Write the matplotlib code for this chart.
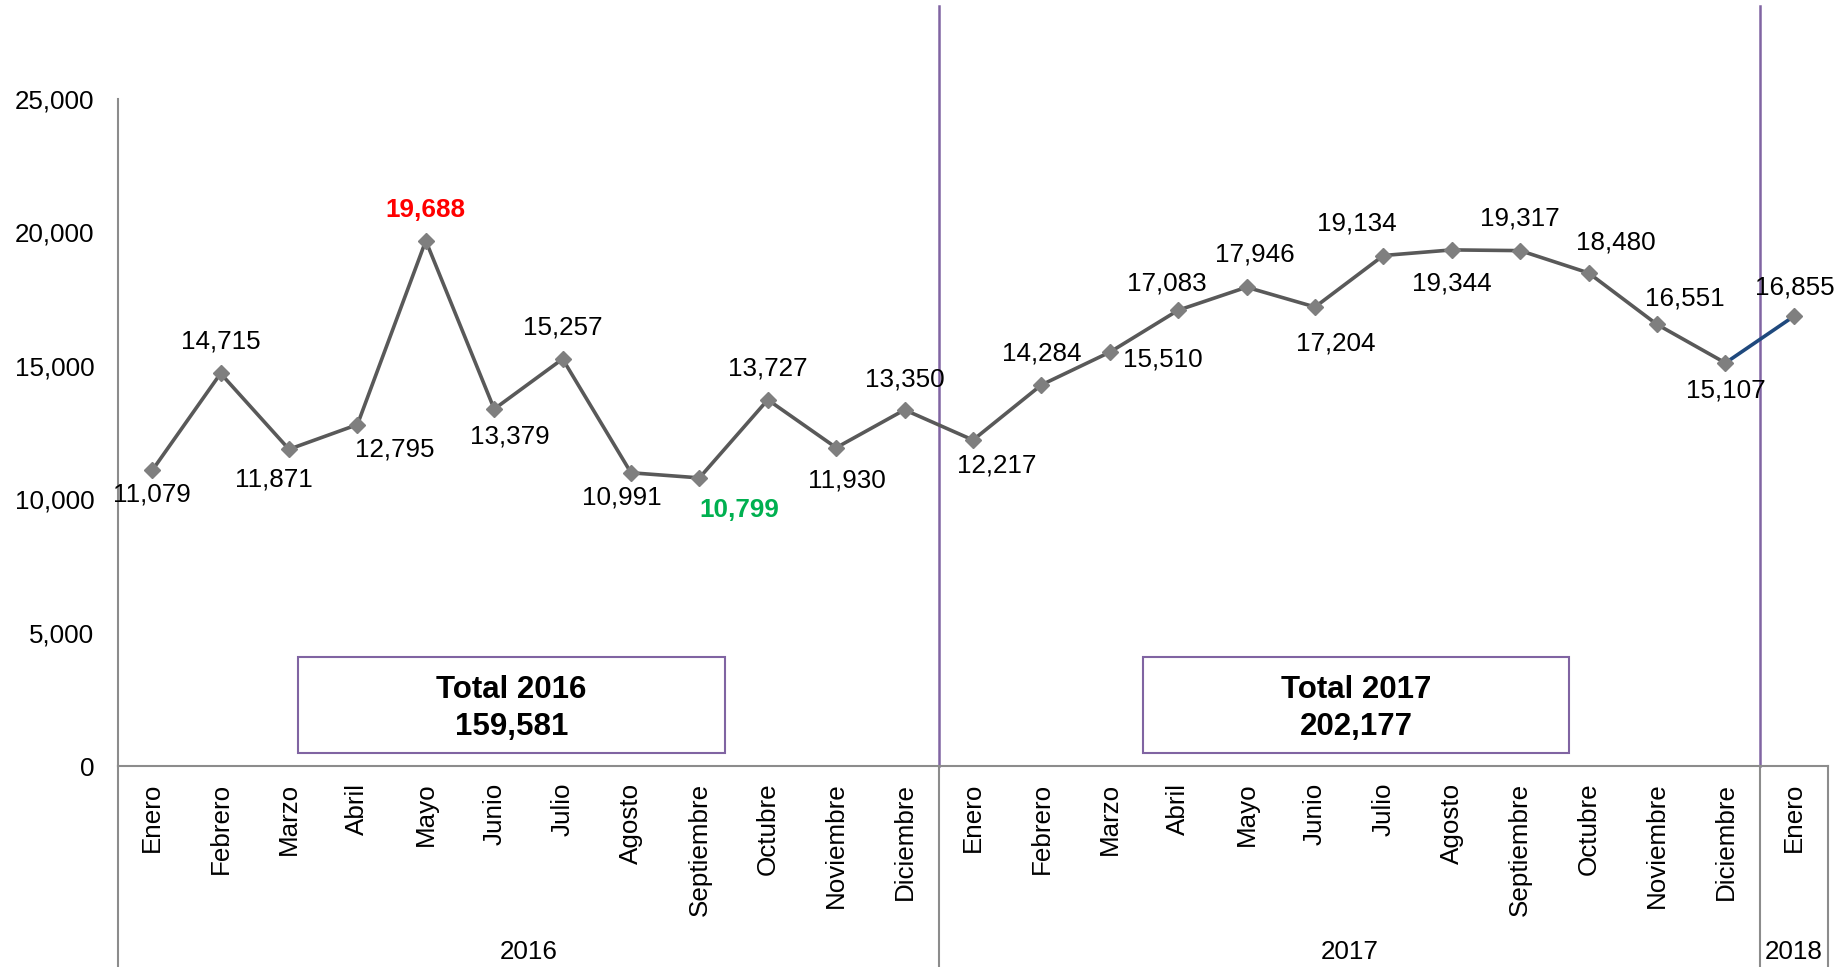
import matplotlib
matplotlib.use("Agg")
import matplotlib.pyplot as plt
from matplotlib.patches import Rectangle

plt.rcParams["font.family"] = ["Liberation Sans", "DejaVu Sans"]

# monthly totals, Jan 2016 .. Jan 2018
MONTHS = [
    "Enero", "Febrero", "Marzo", "Abril", "Mayo", "Junio", "Julio", "Agosto",
    "Septiembre", "Octubre", "Noviembre", "Diciembre",
    "Enero", "Febrero", "Marzo", "Abril", "Mayo", "Junio", "Julio", "Agosto",
    "Septiembre", "Octubre", "Noviembre", "Diciembre",
    "Enero",
]
YEARS = ["2016"] * 12 + ["2017"] * 12 + ["2018"]
VALUES = [
    11079, 14715, 11871, 12795, 19688, 13379, 15257, 10991, 10799, 13727, 11930, 13350,
    12217, 14284, 15510, 17083, 17946, 17204, 19134, 19344, 19317, 18480, 16551, 15107,
    16855,
]
YTICKS = [0, 5000, 10000, 15000, 20000, 25000]
TOTAL_YEARS = ["2016", "2017"]

# label offsets (pixels) from each marker
LABEL_OFFSETS = [
    (0, -24), (0, 32), (-15, -30), (37, -25), (0, 31), (16, -27), (0, 31), (-9, -25),
    (40, -32), (0, 31), (11, -33), (0, 30),
    (24, -25), (0, 31), (53, -7), (-11, 27), (8, 33), (21, -37), (-27, 32), (0, -34),
    (0, 32), (27, 30), (28, 26), (0, -28),
    (1, 29),
]

LINE = "#595959"
MARKER = "#7f7f7f"
BLUE = "#1f497d"
PURPLE = "#8064a2"
GRID = "#8c8c8c"
FS = 18.7

W, H = 1845, 967
fig = plt.figure(figsize=(W / 100, H / 100), dpi=100)
ax_left, ax_right, ax_top, ax_bot = 118, 1828, 99, 766
ax = fig.add_axes([ax_left / W, 1 - ax_bot / H, (ax_right - ax_left) / W, (ax_bot - ax_top) / H])

x = list(range(len(VALUES)))
ax.set_xlim(-0.5, len(VALUES) - 0.5)
ax.set_ylim(0, 25000)

# last segment (into 2018) drawn as its own series
ax.plot(x[-2:], VALUES[-2:], color=BLUE, lw=2.6, zorder=2)
ax.plot(x[:-1], VALUES[:-1], color=LINE, lw=2.6, zorder=2)
ax.plot(x, VALUES, ls="none", marker="D", ms=8, color=MARKER, zorder=3)

imax = VALUES[:12].index(max(VALUES[:12]))
imin = VALUES[:12].index(min(VALUES[:12]))
for i, v in enumerate(VALUES):
    color, weight = "black", "normal"
    if i == imax:
        color, weight = "#ff0000", "bold"
    elif i == imin:
        color, weight = "#00b050", "bold"
    dx, dy = LABEL_OFFSETS[i]
    ax.annotate(f"{v:,}", (i, v), xytext=(dx, dy), textcoords="offset pixels",
                ha="center", va="center", fontsize=FS, color=color, fontweight=weight)

# axes styling
for s in ("top", "right"):
    ax.spines[s].set_visible(False)
for s in ("left", "bottom"):
    ax.spines[s].set_color(GRID)
    ax.spines[s].set_linewidth(1.5)
ax.set_yticks(YTICKS)
ax.set_yticklabels([f"{t:,}" for t in YTICKS], fontsize=FS)
ax.set_xticks(x)
ax.set_xticklabels(MONTHS, rotation=90, fontsize=FS)
ax.tick_params(axis="y", length=0, pad=17)
ax.tick_params(axis="x", length=0, pad=12)

# year groups: separators below the axis, year labels, purple dividers
trans = ax.get_xaxis_transform()
px = ax_bot - ax_top
below = -(H - ax_bot) / px
groups = []
for i, yr in enumerate(YEARS):
    if not groups or groups[-1][0] != yr:
        groups.append([yr, i, i])
    else:
        groups[-1][2] = i
for yr, a, b in groups:
    ax.plot([a - 0.5, a - 0.5], [0, below], transform=trans, color=GRID, lw=1.5, clip_on=False)
    ax.text((a + b) / 2, -(952 - ax_bot) / px, yr, transform=trans, ha="center",
            va="center", fontsize=FS)
    if a > 0:
        ax.plot([a - 0.5, a - 0.5], [0, (ax_bot - 6) / px], transform=trans,
                color=PURPLE, lw=1.8, clip_on=False, zorder=1)
ax.plot([len(VALUES) - 0.5] * 2, [0, below], transform=trans, color=GRID, lw=1.5, clip_on=False)

# yearly total boxes
box_centers = [5.25, 17.6]
for yr, cx in zip(TOTAL_YEARS, box_centers):
    total = sum(v for v, y in zip(VALUES, YEARS) if y == yr)
    ax.add_patch(Rectangle((cx - 3.12, 488), 6.24, 3604, fill=False, ec=PURPLE, lw=1.5, zorder=4))
    ax.text(cx, 2830, f"Total {yr}", ha="center", va="center", fontsize=22.5, fontweight="bold")
    ax.text(cx, 1480, f"{total:,}", ha="center", va="center", fontsize=22.5, fontweight="bold")

fig.savefig("out.png", dpi=100)
